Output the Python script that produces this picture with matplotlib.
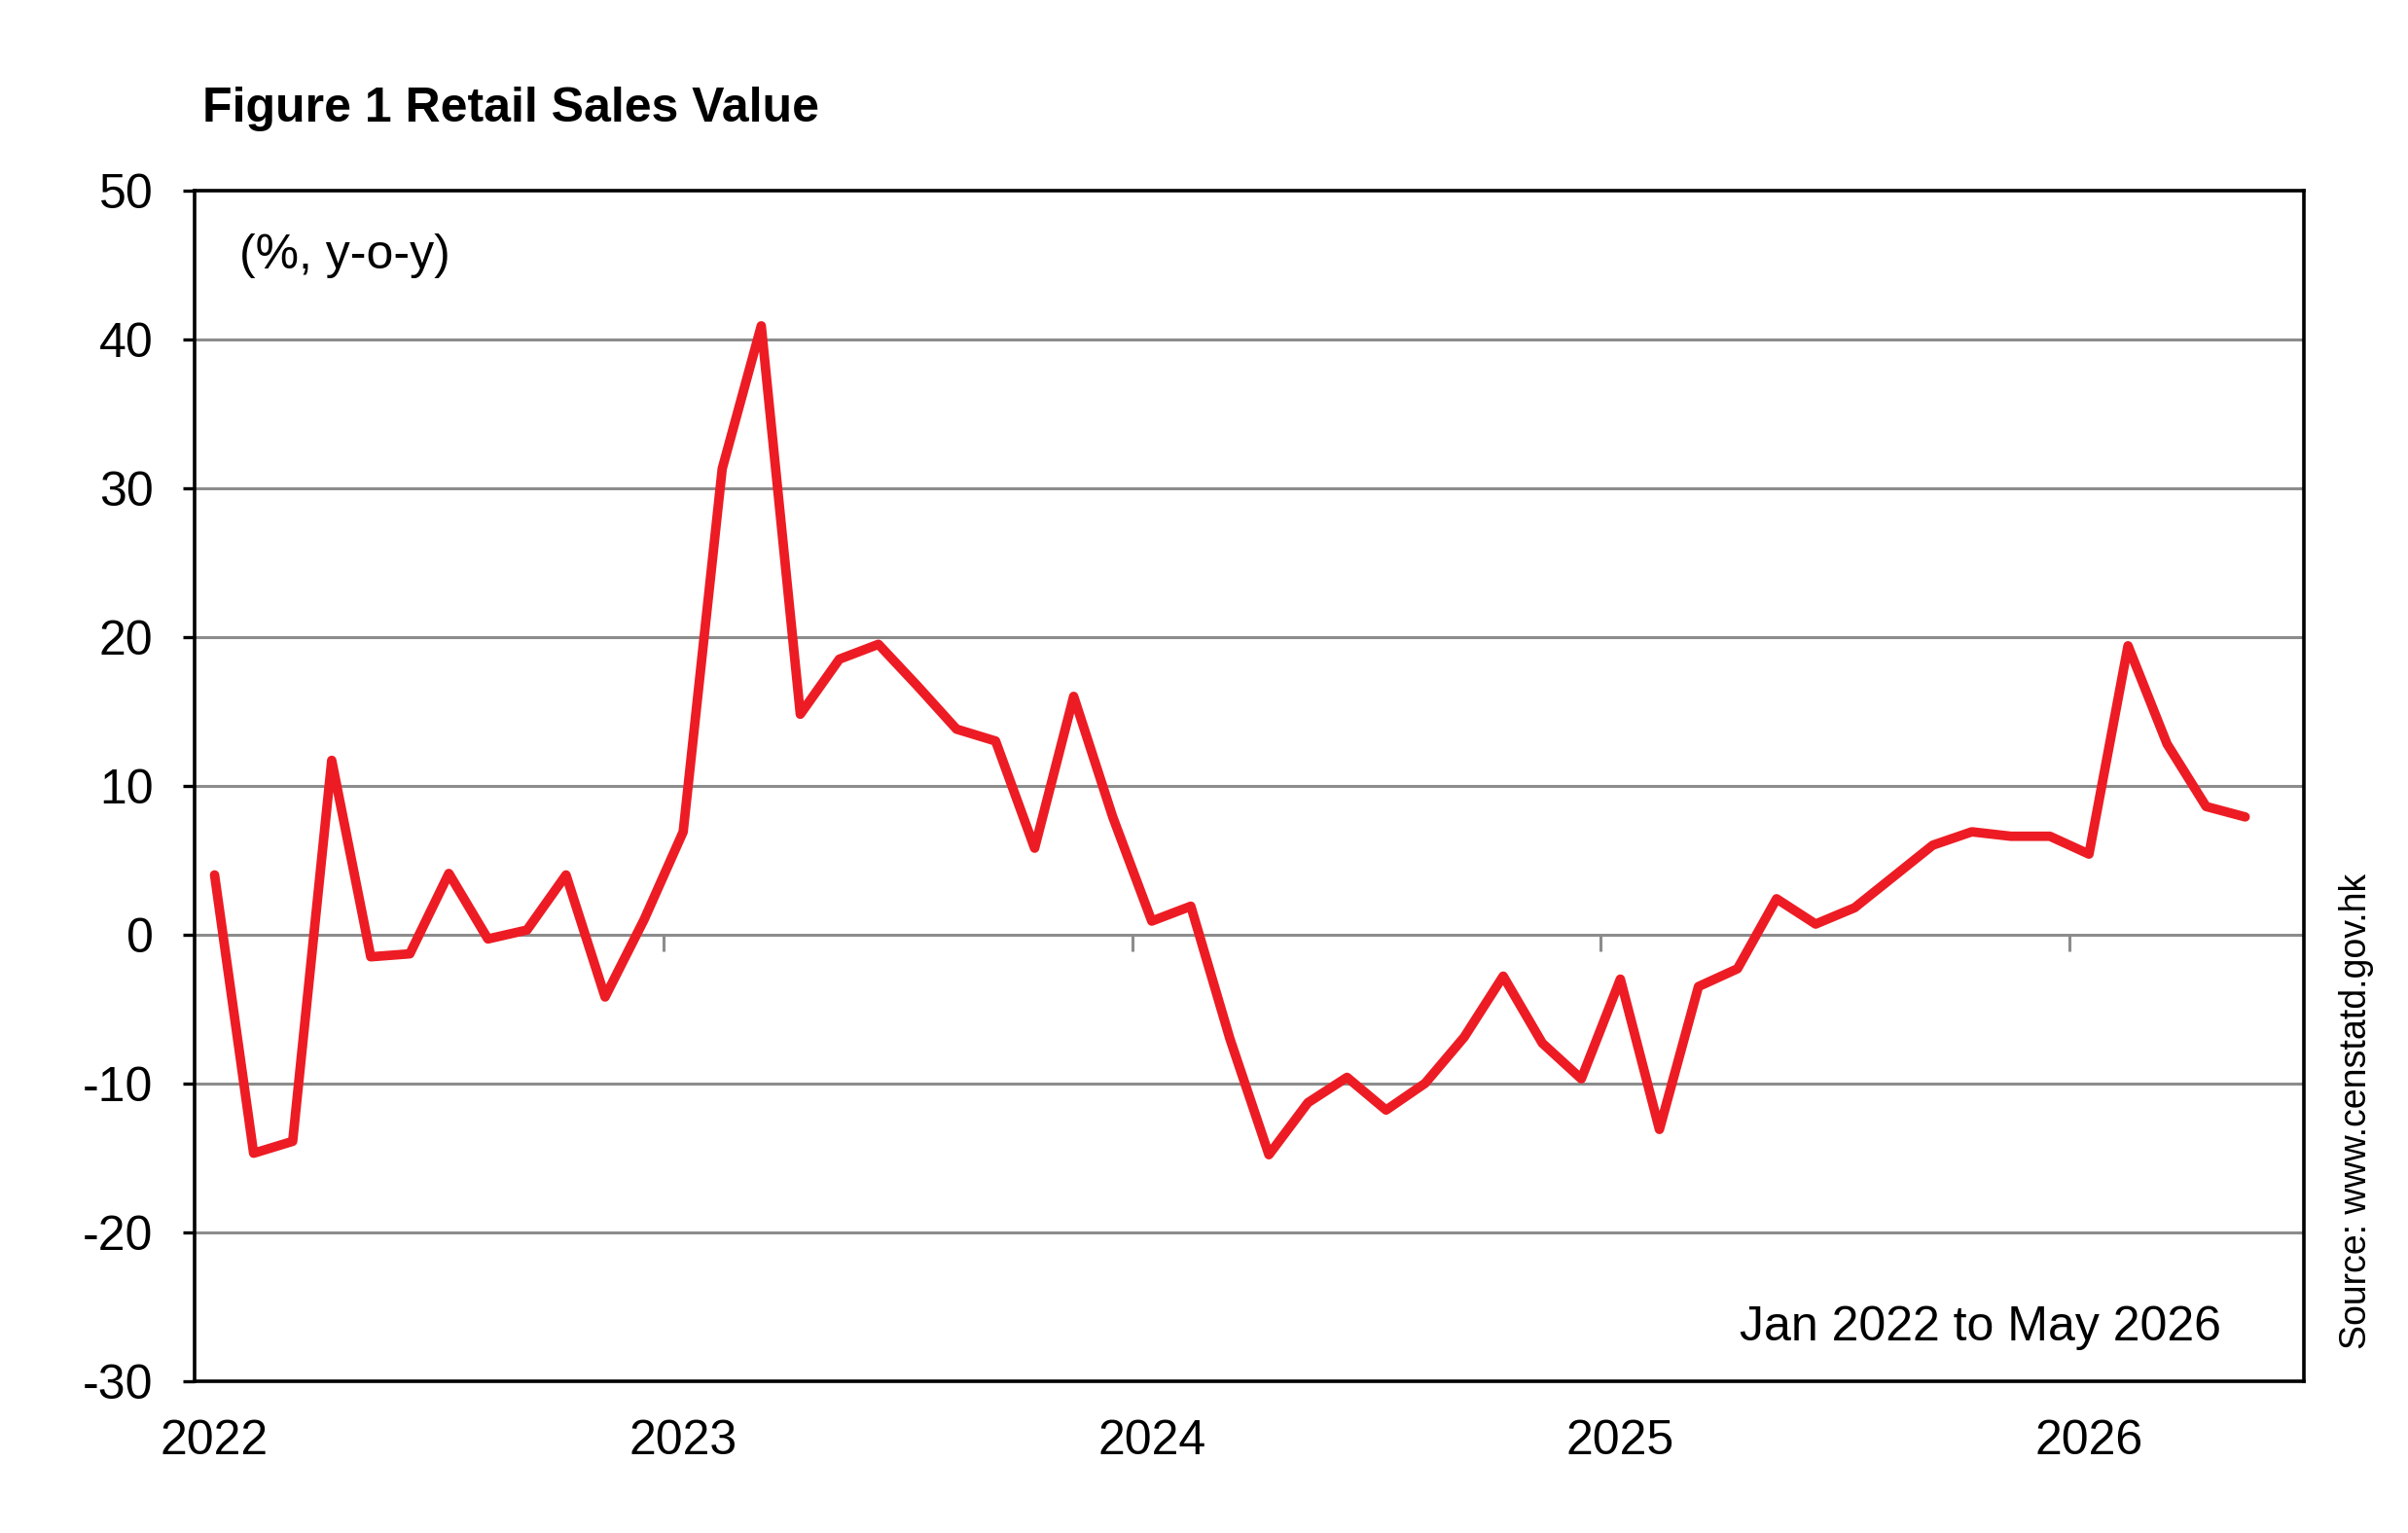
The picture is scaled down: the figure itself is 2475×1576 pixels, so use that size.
import matplotlib
matplotlib.use("Agg")
import matplotlib.pyplot as plt

plt.rcParams['font.family'] = ['Liberation Sans', 'DejaVu Sans']

months = ["Jan 2022", "Feb 2022", "Mar 2022", "Apr 2022", "May 2022", "Jun 2022",
          "Jul 2022", "Aug 2022", "Sep 2022", "Oct 2022", "Nov 2022", "Dec 2022",
          "Jan 2023", "Feb 2023", "Mar 2023", "Apr 2023", "May 2023", "Jun 2023",
          "Jul 2023", "Aug 2023", "Sep 2023", "Oct 2023", "Nov 2023", "Dec 2023",
          "Jan 2024", "Feb 2024", "Mar 2024", "Apr 2024", "May 2024", "Jun 2024",
          "Jul 2024", "Aug 2024", "Sep 2024", "Oct 2024", "Nov 2024", "Dec 2024",
          "Jan 2025", "Feb 2025", "Mar 2025", "Apr 2025", "May 2025", "Jun 2025",
          "Jul 2025", "Aug 2025", "Sep 2025", "Oct 2025", "Nov 2025", "Dec 2025",
          "Jan 2026", "Feb 2026", "Mar 2026", "Apr 2026", "May 2026"]

yoy = [4.0, -14.7, -13.9, 11.7, -1.5, -1.3,
       4.1, -0.3, 0.3, 4.0, -4.2, 1.0,
       6.9, 31.3, 40.9, 14.8, 18.5, 19.5,
       16.7, 13.8, 13.0, 5.8, 16.0, 7.9,
       0.9, 1.9, -7.0, -14.8, -11.3, -9.6,
       -11.8, -10.0, -6.9, -2.8, -7.3, -9.7,
       -3.0, -13.1, -3.5, -2.3, 2.4, 0.7,
       1.8, 3.9, 6.0, 6.9, 6.6, 6.6,
       5.4, 19.4, 12.8, 8.6, 7.9]

year_labels = ["2022", "2023", "2024", "2025", "2026"]
y_ticks = [-30, -20, -10, 0, 10, 20, 30, 40, 50]

fig = plt.figure(figsize=(24.75, 15.76), dpi=100)
ax = fig.add_axes([0.081, 0.0992, 0.8757, 0.7766])

x = list(range(len(yoy)))
n_slots = len(yoy) + 1
ax.set_xlim(-0.5, n_slots - 0.5)
ax.set_ylim(y_ticks[0], y_ticks[-1])

for v in y_ticks[1:-1]:
    ax.axhline(v, color="#8c8c8c", lw=2.2, zorder=1)

# year boundary ticks on the zero line
for k in range(1, len(year_labels)):
    b = 12 * k - 0.5
    ax.plot([b, b], [0, -1.1], color="#8c8c8c", lw=2.2, zorder=1, solid_capstyle="butt")

ax.plot(x, yoy, color="#ED1C24", lw=7, zorder=3, solid_joinstyle="round",
        solid_capstyle="round")

ax.set_yticks(y_ticks)
ax.set_yticklabels([str(v) for v in y_ticks])
ax.tick_params(axis="y", direction="out", length=9, width=2.4, pad=22,
               labelsize=36, color="black")
ax.set_xticks([12 * k for k in range(len(year_labels))])
ax.set_xticklabels(year_labels)
ax.tick_params(axis="x", length=0, pad=28, labelsize=36)

for s in ax.spines.values():
    s.set_linewidth(2.6)
    s.set_color("black")

ax.text(0.021, 0.945, "(%, y-o-y)", transform=ax.transAxes, fontsize=36,
        ha="left", va="center")
ax.text(0.961, 0.045, "Jan 2022 to May 2026", transform=ax.transAxes,
        fontsize=36, ha="right", va="center")

fig.text(0.084, 0.929, "Figure 1 Retail Sales Value", fontsize=36,
         fontweight="bold", ha="left", va="center")
fig.text(0.9785, 0.120, "Source: www.censtatd.gov.hk", fontsize=27,
         rotation=90, ha="center", va="bottom")

fig.savefig("out.png", dpi=100)
